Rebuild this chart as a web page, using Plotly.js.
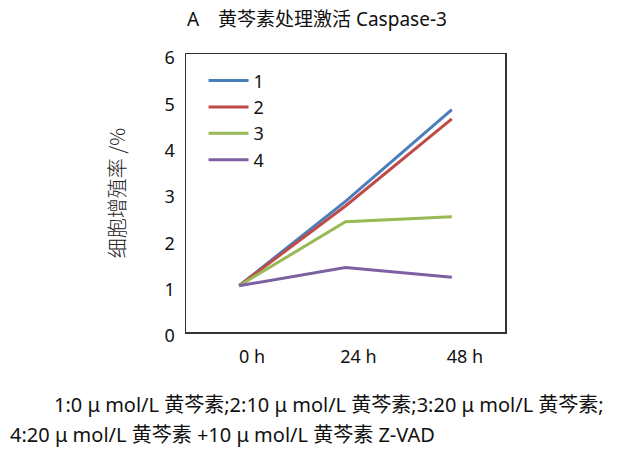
<!DOCTYPE html>
<html>
<head>
<meta charset="utf-8">
<script src="https://cdn.plot.ly/plotly-3.0.1.min.js"></script>
<style>html,body{margin:0;padding:0;background:#fff;}#chart{width:625px;height:450px;}</style>
</head>
<body>
<div id="chart"></div>
<script>
var categories = ["0 h", "24 h", "48 h"];
var seriesNames = ["1", "2", "3", "4"];
var series1 = [1.0, 2.82, 4.8];
var series2 = [1.0, 2.72, 4.6];
var series3 = [1.0, 2.38, 2.49];
var series4 = [1.0, 1.39, 1.18];
var yTickVals = [0, 1, 2, 3, 4, 5, 6];
var titleText = "A　黄芩素处理激活 Caspase-3";
var yTitleText = "细胞增殖率 /%";
var note1 = "1:0 μ mol/L 黄芩素;2:10 μ mol/L 黄芩素;3:20 μ mol/L 黄芩素;";
var note2 = "4:20 μ mol/L 黄芩素 +10 μ mol/L 黄芩素 Z-VAD";

var colors = ["#4a7ebb", "#be4b48", "#98b954", "#7d60a0"];
var allSeries = [series1, series2, series3, series4];
var fontFam = "'Noto Sans', 'Noto Sans CJK SC', sans-serif";

var traces = allSeries.map(function (s, i) {
  return {
    x: categories, y: s, name: seriesNames[i], type: "scatter", mode: "lines",
    line: {color: colors[i], width: 3}
  };
});

var layout = {
  width: 625, height: 450,
  margin: {l: 186, r: 120, t: 54, b: 118},
  paper_bgcolor: "#fff", plot_bgcolor: "#fff",
  font: {family: fontFam, size: 18, color: "#111"},
  title: {text: titleText, x: 0.507, xanchor: "center", y: 0.958, yanchor: "middle",
          font: {family: fontFam, size: 19, color: "#111"}},
  showlegend: true,
  legend: {x: 0.055, y: 0.97, xanchor: "left", yanchor: "top", bgcolor: "rgba(0,0,0,0)",
           font: {size: 18, family: fontFam}, tracegroupgap: 0, itemwidth: 40},
  xaxis: {
    type: "category", range: [-0.5, 2.5], showgrid: false, zeroline: false,
    showline: true, mirror: true, linecolor: "#333", linewidth: 1.5,
    ticks: "", tickfont: {size: 18, family: fontFam}, ticklabelstandoff: 8, ticklabelshift: 13
  },
  yaxis: {
    range: [0, 6], tickvals: yTickVals, showgrid: false, zeroline: false,
    showline: true, mirror: true, linecolor: "#333", linewidth: 1.5,
    ticks: "", tickfont: {size: 18, family: fontFam}, ticklabelstandoff: 6, ticklabelshift: 4,
    title: {text: yTitleText, standoff: 33,
            font: {family: "'Noto Sans CJK SC', sans-serif", size: 20, color: "#222", weight: 300}}
  },
  annotations: [
    {text: note1, xref: "paper", yref: "paper", x: -0.42, xanchor: "left", y: -0.26, yanchor: "middle",
     showarrow: false, font: {size: 20, family: fontFam, color: "#111"}},
    {text: note2, xref: "paper", yref: "paper", x: -0.558, xanchor: "left", y: -0.37, yanchor: "middle",
     showarrow: false, font: {size: 20, family: fontFam, color: "#111"}}
  ]
};

Plotly.newPlot("chart", traces, layout, {displayModeBar: false, staticPlot: true});
</script>
</body>
</html>
